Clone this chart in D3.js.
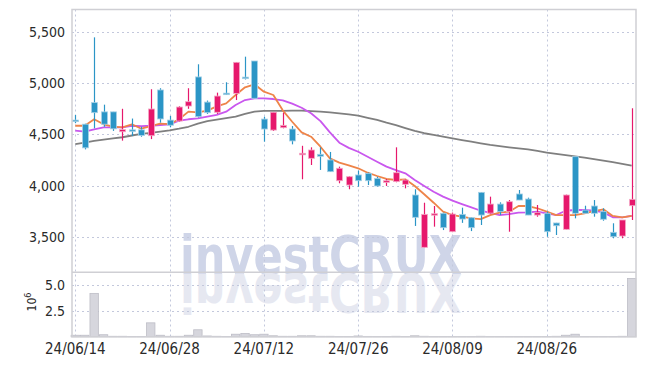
<!DOCTYPE html>
<html>
<head>
<meta charset="utf-8">
<script src="https://cdn.jsdelivr.net/npm/d3@7"></script>
<style>
  body { margin: 0; background: #fff; }
  svg { display: block; }
  .tick-label { font-family: "Liberation Sans Narrow", "DejaVu Sans Condensed", sans-serif; fill: #2a2a2a; }
</style>
</head>
<body>
<div id="chart"></div>
<script>
// --- dati ---
const dateTicks = [0, 10, 20, 30, 40, 50];
const dateLabels = ["24/06/14", "24/06/28", "24/07/12", "24/07/26", "24/08/09", "24/08/26"];
const priceTicks = [3500, 4000, 4500, 5000, 5500];
const volumeTicks = [2.5, 5.0];

const openP  = [4640,4600,4810,4720,4720,4527,4545,4545,4488,4933,4640,4631,4777,5060,4815,4716,4902,4900,5058,5215,
                4650,4543,4566,4553,4307,4268,4307,4252,4050,4008,4106,4122,4073,4034,4041,4015,3911,3402,3725,3733,
                3554,3723,3690,3937,3735,3823,3749,3921,3872,3716,3733,3639,3577,4284,3764,3804,3749,3548,3512,3807];
const highP  = [4690,4605,5445,4790,4720,4750,4655,4575,4940,4950,4680,4775,4950,5183,4830,4907,5008,5205,5257,5215,
                4673,4716,4712,4582,4390,4375,4375,4330,4187,4095,4148,4130,4089,4067,4375,4067,3967,3836,3804,3740,
                3740,3788,3695,3940,3895,3840,3862,3960,3885,3814,3749,3640,3915,4284,3807,3862,3782,3636,3668,4755];
const lowP   = [4610,4355,4560,4575,4535,4440,4485,4478,4455,4615,4570,4625,4750,4665,4700,4700,4884,4835,5035,4850,
                4430,4534,4560,4404,4064,4203,4155,4135,4025,3967,3992,4008,3992,3999,4035,3976,3610,3400,3603,3570,
                3550,3640,3560,3619,3725,3716,3554,3862,3716,3700,3505,3522,3575,3684,3733,3700,3661,3490,3490,3668];
const closeP = [4625,4370,4712,4600,4555,4547,4540,4490,4748,4651,4590,4767,4819,4673,4712,4874,4898,5202,5050,4852,
                4553,4716,4589,4437,4317,4349,4288,4138,4171,4089,4050,4050,3999,4050,4128,4057,3694,3723,3729,3593,
                3726,3677,3593,3716,3823,3749,3846,3862,3716,3739,3554,3612,3911,3733,3733,3733,3675,3505,3668,3869];
const volume = [0.15,0.15,4.2,0.2,0.05,0.05,0.03,0.03,1.35,0.15,0.05,0.05,0.15,0.68,0.08,0.05,0.03,0.25,0.32,0.2,
                0.25,0.1,0.05,0.05,0.1,0.1,0.05,0.05,0.03,0.03,0.08,0.04,0.03,0.03,0.05,0.03,0.1,0.05,0.03,0.03,
                0.03,0.03,0.03,0.05,0.03,0.03,0.03,0.03,0.03,0.03,0.03,0.05,0.15,0.25,0.03,0.03,0.03,0.03,0.05,5.65];

const ma5  = [4585,4585,4648,4599,4576,4570,4599,4556,4582,4605,4600,4648,4722,4716,4732,4773,4803,4884,4959,4988,
              4916,4884,4735,4624,4521,4478,4381,4268,4226,4200,4171,4128,4096,4067,4057,4064,3999,3918,3836,3749,
              3716,3700,3684,3677,3716,3739,3749,3804,3804,3782,3749,3716,3716,3716,3733,3755,3772,3707,3694,3707];
const ma20 = [4537,4527,4550,4570,4570,4570,4585,4582,4585,4592,4599,4634,4648,4657,4673,4690,4722,4787,4835,4852,
              4852,4845,4832,4800,4760,4706,4630,4520,4420,4370,4332,4284,4235,4187,4154,4122,4057,3999,3943,3895,
              3856,3823,3791,3758,3736,3716,3726,3739,3742,3749,3733,3716,3758,3765,3765,3758,3742,3694,3694,3707];
const ma60 = [4407,4420,4437,4450,4462,4473,4490,4505,4515,4527,4540,4556,4575,4605,4630,4645,4660,4673,4700,4722,
              4729,4730,4730,4732,4732,4728,4722,4715,4706,4696,4684,4662,4641,4615,4592,4562,4534,4512,4495,4478,
              4463,4446,4430,4414,4398,4386,4375,4365,4356,4340,4323,4312,4300,4287,4274,4260,4245,4230,4213,4197];

const colors = { up: "#e6186c", down: "#2b95c6", ma5: "#ee8449", ma20: "#c957ee", ma60: "#7f7f7f",
                 grid: "#c3c8dc", frame: "#cfcfd4", vol: "#d6d6dd", volStroke: "#bdbdc6" };

// --- layout ---
const W = 645, H = 366;
const left = 72, right = 636, priceTop = 9.5, priceBottom = 272.3, volBottom = 336.8;

const svg = d3.select("#chart").append("svg").attr("width", W).attr("height", H);
svg.append("rect").attr("width", W).attr("height", H).attr("fill", "#fff");

const idx = d3.range(openP.length);
const x = d3.scaleLinear().domain([-0.35, 59.46]).range([left, right]);
const y = d3.scaleLinear().domain([3159, 5716]).range([priceBottom, priceTop]);
const yv = d3.scaleLinear().domain([0, 6.24]).range([volBottom, priceBottom]);

// watermark "investCRUX" + riflesso
const wm = svg.append("g");
wm.append("text")
  .attr("x", 180).attr("y", 274)
  .attr("textLength", 282).attr("lengthAdjust", "spacingAndGlyphs")
  .style("font-family", "'DejaVu Sans Condensed', 'DejaVu Sans', sans-serif")
  .style("font-weight", "bold").style("font-size", "53px")
  .attr("fill", "#cfd5e8")
  .text("investCRUX");
wm.append("text")
  .attr("transform", "translate(0,548) scale(1,-1)")
  .attr("x", 180).attr("y", 274)
  .attr("textLength", 282).attr("lengthAdjust", "spacingAndGlyphs")
  .style("font-family", "'DejaVu Sans Condensed', 'DejaVu Sans', sans-serif")
  .style("font-weight", "bold").style("font-size", "53px")
  .attr("fill", "#e6e8f1")
  .text("investCRUX");

// griglia
const grid = svg.append("g").attr("stroke", colors.grid).attr("stroke-dasharray", "2,3").attr("stroke-width", 1);
grid.selectAll(".hp").data(priceTicks).join("line")
  .attr("x1", left).attr("x2", right)
  .attr("y1", d => Math.round(y(d)) + 0.5).attr("y2", d => Math.round(y(d)) + 0.5);
grid.selectAll(".hv").data(volumeTicks).join("line")
  .attr("x1", left).attr("x2", right)
  .attr("y1", d => Math.round(yv(d)) + 0.5).attr("y2", d => Math.round(yv(d)) + 0.5);
grid.selectAll(".vx").data(dateTicks).join("line")
  .attr("x1", d => Math.round(x(d)) + 0.5).attr("x2", d => Math.round(x(d)) + 0.5)
  .attr("y1", priceTop).attr("y2", volBottom);

// volume
svg.append("g").selectAll("rect").data(idx).join("rect")
  .attr("x", i => x(i) - 4.2).attr("width", 8.4)
  .attr("y", i => yv(volume[i])).attr("height", i => volBottom - yv(volume[i]))
  .attr("fill", colors.vol).attr("stroke", colors.volStroke).attr("stroke-width", 0.8);

// medie mobili
const line = d3.line().x((d, i) => x(i)).y(d => y(d));
[[ma60, colors.ma60], [ma20, colors.ma20], [ma5, colors.ma5]].forEach(([data, c]) => {
  svg.append("path").datum(data).attr("d", line)
    .attr("fill", "none").attr("stroke", c).attr("stroke-width", 1.8).attr("stroke-linejoin", "round");
});

// candele
const candles = svg.append("g").selectAll("g").data(idx).join("g");
candles.append("line")
  .attr("x1", i => Math.round(x(i)) + 0.5).attr("x2", i => Math.round(x(i)) + 0.5)
  .attr("y1", i => y(highP[i])).attr("y2", i => y(lowP[i]))
  .attr("stroke", i => closeP[i] >= openP[i] ? colors.up : colors.down).attr("stroke-width", 1.2);
candles.append("rect")
  .attr("x", i => Math.round(x(i)) - 2.5).attr("width", 6)
  .attr("y", i => y(Math.max(openP[i], closeP[i])))
  .attr("height", i => Math.max(1.5, Math.abs(y(openP[i]) - y(closeP[i]))))
  .attr("fill", i => closeP[i] >= openP[i] ? colors.up : colors.down)
  .attr("stroke", i => closeP[i] >= openP[i] ? "#f4a9c6" : "#a7d1e6").attr("stroke-width", 0.8);

// cornice
const frame = svg.append("g").attr("stroke", colors.frame).attr("fill", "none");
frame.append("rect").attr("x", left).attr("y", priceTop).attr("width", right - left).attr("height", volBottom - priceTop).attr("stroke-width", 1.5);
frame.append("line").attr("x1", left).attr("x2", right).attr("y1", priceBottom).attr("y2", priceBottom).attr("stroke-width", 1.5);

// etichette assi
svg.append("g").selectAll("text").data(priceTicks).join("text")
  .attr("class", "tick-label")
  .attr("x", 65).attr("y", d => y(d)).attr("dy", "0.35em")
  .attr("text-anchor", "end").style("font-size", "14px")
  .text(d => d3.format(",")(d));

svg.append("g").selectAll("text").data(volumeTicks).join("text")
  .attr("class", "tick-label")
  .attr("x", 65).attr("y", d => yv(d)).attr("dy", "0.35em")
  .attr("text-anchor", "end").style("font-size", "14px")
  .text(d => d3.format(".1f")(d));

const unit = svg.append("text").attr("class", "tick-label")
  .attr("transform", "translate(36,302) rotate(-90)")
  .attr("text-anchor", "middle").style("font-size", "12px");
unit.append("tspan").text("10");
unit.append("tspan").attr("dy", "-5").style("font-size", "9px").text("6");

svg.append("g").selectAll("text").data(dateTicks).join("text")
  .attr("class", "tick-label")
  .attr("x", d => x(d)).attr("y", 354)
  .attr("text-anchor", "middle").style("font-size", "15px")
  .text((d, i) => dateLabels[i]);
</script>
</body>
</html>
